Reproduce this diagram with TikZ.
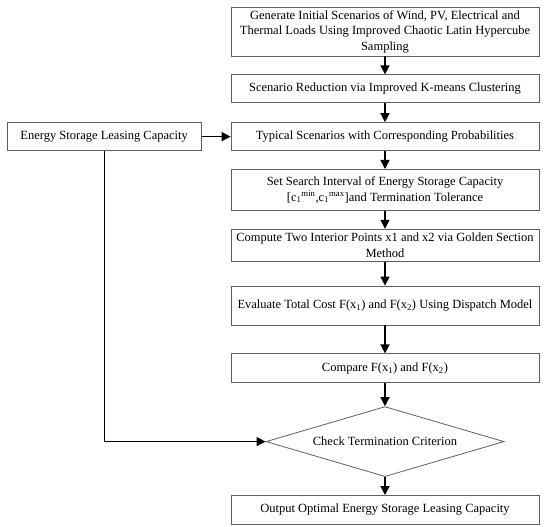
\documentclass[tikz,border=0pt]{standalone}
\usepackage{fontspec}
\setmainfont{Liberation Serif}
\usetikzlibrary{positioning,arrows.meta,shapes.geometric}
\definecolor{edgegray}{RGB}{95,95,95}

\begin{document}
\begin{tikzpicture}[
  box/.style={draw=edgegray,line width=0.8pt,align=center,minimum width=308pt,inner sep=2pt,font=\fontsize{12.5}{15.5}\selectfont},
  test/.style={diamond,draw=edgegray,line width=0.8pt,aspect=3.4,minimum width=238pt,minimum height=70pt,inner sep=2pt,font=\fontsize{12.5}{15.5}\selectfont},
  arr/.style={-{Triangle[length=9pt,width=9pt]},line width=1.4pt,draw=black},node distance=18pt]
\useasboundingbox (0,0) rectangle (550pt,-527pt);
\node[box,minimum height=49pt] (gen) at (385pt,-31.5pt) {Generate Initial Scenarios of Wind, PV, Electrical and\\Thermal Loads Using Improved Chaotic Latin Hypercube\\Sampling};
\node[box,minimum height=28pt,below=of gen] (reduce) {Scenario Reduction via Improved K-means Clustering};
\node[box,minimum height=28pt,below=19pt of reduce] (typical) {Typical Scenarios with Corresponding Probabilities};
\node[box,minimum height=41pt,below=of typical] (interval) {Set Search Interval of Energy Storage Capacity\\{[}c\textsubscript{1}$^{\mathrm{min}}$,c\textsubscript{1}$^{\mathrm{max}}${]}and Termination Tolerance};
\node[box,minimum height=32pt,below=of interval] (golden) {Compute Two Interior Points x1 and x2 via Golden Section\\Method};
\node[box,minimum height=39pt,below=24pt of golden] (evaluate) {Evaluate Total Cost F(x\textsubscript{1}) and F(x\textsubscript{2}) Using Dispatch Model};
\node[box,minimum height=29pt,below=28pt of evaluate] (compare) {Compare F(x\textsubscript{1}) and F(x\textsubscript{2})};
\node[test,below=23pt of compare] (check) {Check Termination Criterion};
\node[box,minimum height=29pt,below=of check] (output) {Output Optimal Energy Storage Leasing Capacity};
\node[box,minimum width=194pt,minimum height=28pt,left=29pt of typical] (lease) {Energy Storage Leasing Capacity};
\draw[arr] (gen)--(reduce);\draw[arr] (reduce)--(typical);
\draw[arr] (typical)--(interval);\draw[arr] (interval)--(golden);
\draw[arr] (golden)--(evaluate);\draw[arr] (evaluate)--(compare);
\draw[arr] (compare)--(check);\draw[arr] (check)--(output);
\draw[arr] (lease)--(typical);
\draw[arr] (lease.south) |- (check.west);
\end{tikzpicture}
\end{document}
